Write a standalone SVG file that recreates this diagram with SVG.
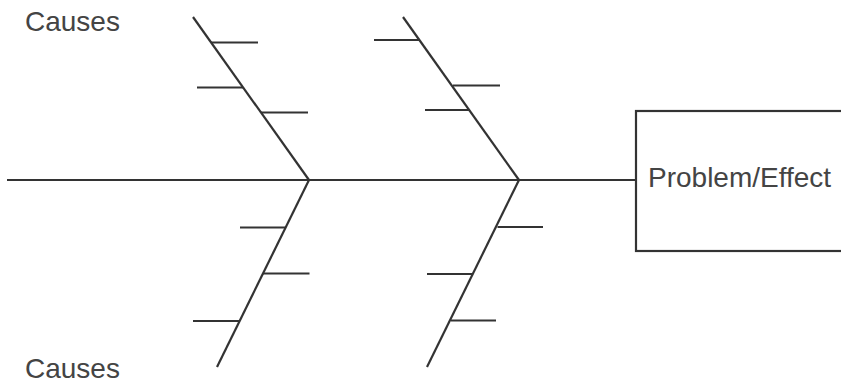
<svg xmlns="http://www.w3.org/2000/svg" width="841" height="384" viewBox="0 0 841 384">
<style>
.ln{stroke:#333;stroke-width:2.2;fill:none;stroke-linecap:butt}
.lbl{font-family:"Liberation Sans",Arial,sans-serif;font-size:28px;fill:#444}
</style>
<rect width="841" height="384" fill="#fff"/>
<g id="connectors">
<line class="ln" x1="7" y1="180" x2="636" y2="180"/>
<g id="bone-upper-left">
<line class="ln" x1="193" y1="17" x2="309" y2="180"/>
<line class="ln" x1="211" y1="42.5" x2="258" y2="42.5"/>
<line class="ln" x1="197" y1="87.5" x2="243" y2="87.5"/>
<line class="ln" x1="261" y1="112.5" x2="308" y2="112.5"/>
</g>
<g id="bone-upper-right">
<line class="ln" x1="403" y1="17" x2="519" y2="180"/>
<line class="ln" x1="374" y1="40" x2="419" y2="40"/>
<line class="ln" x1="453" y1="85.5" x2="500" y2="85.5"/>
<line class="ln" x1="425" y1="110" x2="469" y2="110"/>
</g>
<g id="bone-lower-left">
<line class="ln" x1="309" y1="180" x2="217" y2="367"/>
<line class="ln" x1="240" y1="227.5" x2="285.5" y2="227.5"/>
<line class="ln" x1="263" y1="273.5" x2="309.5" y2="273.5"/>
<line class="ln" x1="193" y1="321" x2="239.5" y2="321"/>
</g>
<g id="bone-lower-right">
<line class="ln" x1="519" y1="180" x2="427" y2="367"/>
<line class="ln" x1="497.5" y1="227" x2="543" y2="227"/>
<line class="ln" x1="427" y1="274" x2="473" y2="274"/>
<line class="ln" x1="451" y1="320.5" x2="496" y2="320.5"/>
</g>
</g>
<g id="effect">
<rect class="ln" x="636" y="111" width="210" height="140"/>
<text class="lbl" x="648" y="187">Problem/Effect</text>
</g>
<g id="causes-top">
<text class="lbl" x="25" y="30.5">Causes</text>
</g>
<g id="causes-bottom">
<text class="lbl" x="25" y="377.5">Causes</text>
</g>
</svg>
